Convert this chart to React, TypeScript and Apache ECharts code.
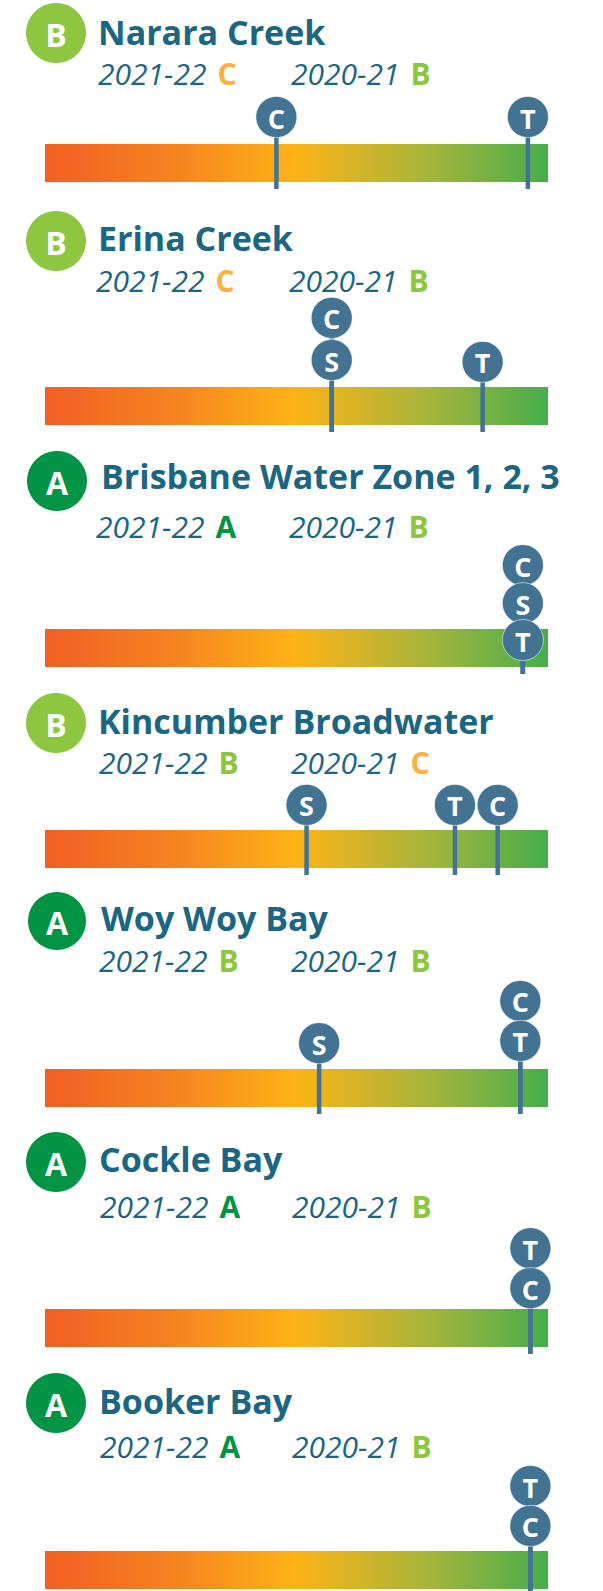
import React, { useEffect, useRef } from "react";
import * as echarts from "echarts";

// ---------- data ----------
const siteNames = [
  "Narara Creek",
  "Erina Creek",
  "Brisbane Water Zone 1, 2, 3",
  "Kincumber Broadwater",
  "Woy Woy Bay",
  "Cockle Bay",
  "Booker Bay",
];
const overallGrades = ["B", "B", "A", "B", "A", "A", "A"];
const grades2122 = ["C", "C", "A", "B", "B", "A", "A"];
const grades2021 = ["B", "B", "B", "C", "B", "B", "B"];
const yearLabel1 = "2021-22";
const yearLabel2 = "2020-21";

// score scale of the gradient bar
const scaleRange = [0, 100];

// markers per site: letter, score along bar, height of marker centre (in bar heights above bar bottom)
const markerLetters = [
  ["C", "T"],
  ["C", "S", "T"],
  ["C", "S", "T"],
  ["S", "T", "C"],
  ["C", "T", "S"],
  ["T", "C"],
  ["T", "C"],
];
const markerScores = [
  [46, 96],
  [57, 57, 87],
  [95, 95, 95],
  [52, 81.5, 90],
  [94.5, 94.5, 54.5],
  [96.5, 96.5],
  [96.5, 96.5],
];
const markerHeights = [
  [1.71, 1.71],
  [2.82, 1.71, 1.66],
  [2.68, 1.68, 0.71],
  [1.66, 1.66, 1.66],
  [2.79, 1.74, 1.68],
  [2.6, 1.55],
  [2.71, 1.66],
];

// ---------- layout ----------
const W = 603;
const H = 1591;
const barLeft = 45;
const barRight = 548;
const barH = 38;
const barTops = [144, 387, 629, 830, 1069, 1309, 1551];
const badgeX = [56, 56, 57, 56, 57, 56, 56];
const badgeY = [33, 241, 481, 723, 921, 1162, 1403];
const badgeR = [30, 30, 30, 30, 29, 30, 30];
const titleX = [98, 98, 101, 98, 101, 99, 99];
const titleY = [32, 238, 476, 721, 918, 1159, 1401];
const subX = [98, 96, 96, 99, 99, 100, 100];
const sub2X = [291, 289, 289, 291, 291, 292, 292];
const subY = [73, 280, 526, 762, 960, 1206, 1446];

const TEXT = "#1B6682";
const MARK = "#427393";
const gradeColor: Record<string, string> = { A: "#009444", B: "#8DC63F", C: "#FBB040" };
const FONT = '"Open Sans", "Noto Sans", sans-serif';

export default function App() {
  const ref = useRef<HTMLDivElement>(null);
  useEffect(() => {
    document.body.style.margin = "0";
    if (!ref.current) return;
    const chart = echarts.init(ref.current, null, { renderer: "svg" });

    const grids: any[] = [];
    const xAxes: any[] = [];
    const yAxes: any[] = [];
    const series: any[] = [];
    const graphics: any[] = [];

    siteNames.forEach((name, i) => {
      const levels = 4;
      const gridH = barH * levels;
      grids.push({
        left: barLeft,
        width: barRight - barLeft,
        top: barTops[i] + barH - gridH,
        height: gridH,
      });
      xAxes.push({ type: "value", gridIndex: i, min: scaleRange[0], max: scaleRange[1], show: false });
      yAxes.push({ type: "value", gridIndex: i, min: 0, max: levels, show: false });

      series.push({
        type: "custom",
        xAxisIndex: i,
        yAxisIndex: i,
        silent: true,
        clip: false,
        data: [[scaleRange[0], scaleRange[1]]],
        renderItem: (_p: any, api: any) => {
          const a = api.coord([api.value(0), 1]);
          const b = api.coord([api.value(1), 0]);
          return {
            type: "rect",
            shape: { x: a[0], y: a[1], width: b[0] - a[0], height: b[1] - a[1] },
            style: {
              fill: new echarts.graphic.LinearGradient(0, 0, 1, 0, [
                { offset: 0, color: "#F15F25" },
                { offset: 0.25, color: "#F5821F" },
                { offset: 0.5, color: "#FCB316" },
                { offset: 0.75, color: "#AAB53A" },
                { offset: 1, color: "#45AE4A" },
              ]),
            },
          };
        },
      });

      const letters = markerLetters[i];
      series.push({
        type: "custom",
        xAxisIndex: i,
        yAxisIndex: i,
        silent: true,
        clip: false,
        data: markerScores[i].map((s, k) => [s, markerHeights[i][k]]),
        renderItem: (params: any, api: any) => {
          const x = api.value(0);
          const h = api.value(1);
          const c = api.coord([x, h]);
          const b = api.coord([x, 0]);
          return {
            type: "group",
            children: [
              {
                type: "line",
                shape: { x1: c[0], y1: c[1], x2: c[0], y2: b[1] + 7 },
                style: { stroke: MARK, lineWidth: 4.5 },
              },
              {
                type: "circle",
                shape: { cx: c[0], cy: c[1], r: 20.5 },
                style: { fill: MARK, stroke: "rgba(255,255,255,0.7)", lineWidth: 0.8 },
              },
              {
                type: "text",
                style: {
                  text: letters[params.dataIndex],
                  x: c[0],
                  y: c[1] + 1,
                  textAlign: "center",
                  textVerticalAlign: "middle",
                  fill: "#ffffff",
                  font: `bold 27px ${FONT}`,
                },
              },
            ],
          };
        },
      });

      // badge
      graphics.push({
        type: "circle",
        shape: { cx: badgeX[i], cy: badgeY[i], r: badgeR[i] },
        style: { fill: gradeColor[overallGrades[i]] },
      });
      graphics.push({
        type: "text",
        style: {
          text: overallGrades[i],
          x: badgeX[i],
          y: badgeY[i] + 1,
          textAlign: "center",
          textVerticalAlign: "middle",
          fill: "#ffffff",
          font: `bold 32px ${FONT}`,
        },
      });
      // title
      graphics.push({
        type: "text",
        style: {
          text: name,
          x: titleX[i],
          y: titleY[i],
          textAlign: "left",
          textVerticalAlign: "middle",
          fill: TEXT,
          font: `bold 34px ${FONT}`,
          lineHeight: 34,
        },
      });
      // sub labels
      const sub = (x: number, yl: string, g: string) => ({
        type: "text",
        style: {
          text: `{y|${yl}}{g|${g}}`,
          x,
          y: subY[i],
          textAlign: "left",
          textVerticalAlign: "middle",
          rich: {
            y: { fill: TEXT, color: TEXT, fontFamily: FONT, fontStyle: "italic", fontSize: 30, lineHeight: 30 },
            g: {
              fill: gradeColor[g],
              color: gradeColor[g],
              fontFamily: FONT,
              fontWeight: "bold",
              fontSize: 30,
              lineHeight: 30,
              padding: [0, 0, 0, 11],
            },
          },
        },
      });
      graphics.push(sub(subX[i], yearLabel1, grades2122[i]));
      graphics.push(sub(sub2X[i], yearLabel2, grades2021[i]));
    });

    chart.setOption({
      animation: false,
      backgroundColor: "#ffffff",
      grid: grids,
      xAxis: xAxes,
      yAxis: yAxes,
      series,
      graphic: { elements: graphics },
    });
    return () => chart.dispose();
  }, []);
  return <div ref={ref} style={{ width: W, height: H }} />;
}
